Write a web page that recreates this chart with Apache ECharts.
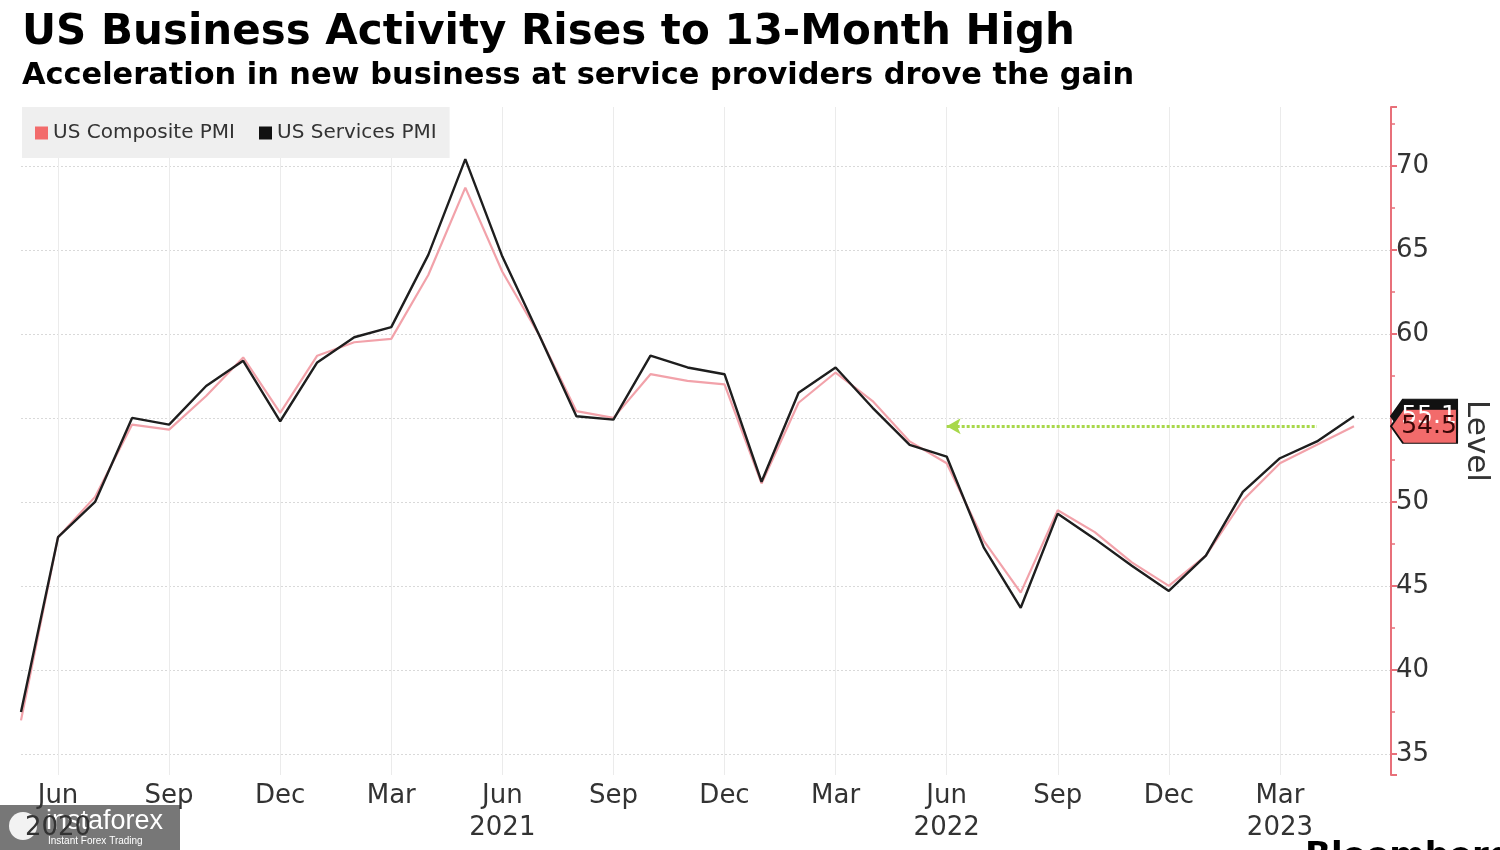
<!DOCTYPE html>
<html>
<head>
<meta charset="utf-8">
<script src="https://cdn.jsdelivr.net/npm/echarts@6/dist/echarts.min.js"></script>
<style>
html,body{margin:0;padding:0;background:#fff;}
#chart{width:1500px;height:850px;}
</style>
</head>
<body>
<div id="chart"></div>
<script>
// ---- data ----
var months = ['2020-05','2020-06','2020-07','2020-08','2020-09','2020-10','2020-11','2020-12',
  '2021-01','2021-02','2021-03','2021-04','2021-05','2021-06','2021-07','2021-08','2021-09','2021-10','2021-11','2021-12',
  '2022-01','2022-02','2022-03','2022-04','2022-05','2022-06','2022-07','2022-08','2022-09','2022-10','2022-11','2022-12',
  '2023-01','2023-02','2023-03','2023-04','2023-05','2023-06'];
var compositePMI = [37.0,47.9,50.3,54.6,54.3,56.3,58.6,55.3,58.7,59.5,59.7,63.5,68.7,63.7,59.9,55.4,55.0,57.6,57.2,57.0,
  51.1,55.9,57.7,56.0,53.6,52.3,47.7,44.6,49.5,48.2,46.4,45.0,46.8,50.1,52.3,53.4,54.5];
var servicesPMI = [37.5,47.9,50.0,55.0,54.6,56.9,58.4,54.8,58.3,59.8,60.4,64.7,70.4,64.6,59.9,55.1,54.9,58.7,58.0,57.6,
  51.2,56.5,58.0,55.6,53.4,52.7,47.3,43.7,49.3,47.8,46.2,44.7,46.8,50.6,52.6,53.6,55.1];
var tickMonths = ['2020-06','2020-09','2020-12','2021-03','2021-06','2021-09','2021-12','2022-03','2022-06','2022-09','2022-12','2023-03'];
var tickLabels = ['Jun\n2020','Sep','Dec','Mar','Jun\n2021','Sep','Dec','Mar','Jun\n2022','Sep','Dec','Mar\n2023'];
var yMin = 33.75, yMax = 73.5;
var arrowFrom = '2022-06', arrowTo = '2023-04';

var FONT = 'DejaVu Sans';
var lastComp = compositePMI[compositePMI.length - 1];
var lastServ = servicesPMI[servicesPMI.length - 1];
var edgeMonth = months[months.length - 1];
var tagPath = 'path://M0,17 L12,0 L66,0 L66,34 L12,34 Z';

function isTick(idx, val) { return tickMonths.indexOf(val) >= 0; }

var chart = echarts.init(document.getElementById('chart'));
chart.setOption({
  animation: false,
  backgroundColor: '#fff',
  textStyle: { fontFamily: FONT },
  grid: { left: 21, right: 109, top: 107, bottom: 75, containLabel: false, outerBoundsMode: 'none' },
  legend: {
    left: 22, top: 107,
    backgroundColor: '#efefef',
    padding: [16, 13, 15, 13],
    itemGap: 24, itemWidth: 13, itemHeight: 13,
    icon: 'rect',
    textStyle: { fontSize: 20, color: '#333', fontFamily: FONT },
    data: [
      { name: 'US Composite PMI', itemStyle: { color: '#f26b6b' } },
      { name: 'US Services PMI', itemStyle: { color: '#111' } }
    ]
  },
  xAxis: {
    type: 'category', data: months, boundaryGap: false,
    axisLine: { show: false }, axisTick: { show: false },
    axisLabel: {
      interval: isTick, margin: 5,
      fontSize: 26, lineHeight: 32, color: '#333', fontFamily: FONT,
      formatter: function (v) { var i = tickMonths.indexOf(v); return i >= 0 ? tickLabels[i] : ''; }
    },
    splitLine: { show: true, interval: isTick, lineStyle: { color: '#ebebeb', width: 1 } }
  },
  yAxis: [{
    type: 'value', position: 'right', min: yMin, max: yMax,
    minInterval: 5, maxInterval: 5, splitNumber: 8,
    name: 'Level', nameLocation: 'middle', nameRotate: -90, nameGap: 70,
    nameTextStyle: { fontSize: 31, color: '#333', fontFamily: FONT },
    axisLine: { show: true, lineStyle: { color: '#e8707a', width: 2 } },
    axisTick: { show: true, length: 6, lineStyle: { color: '#e8707a', width: 2 } },
    axisLabel: {
      margin: 5, fontSize: 26, color: '#333', fontFamily: FONT,
      formatter: function (v) { return (Math.abs(v % 5) < 1e-9) ? String(v) : ''; }
    },
    splitLine: { show: true, showMinLine: false, showMaxLine: false, lineStyle: { color: '#d9d9d9', type: [2, 2], width: 1 } }
  }, {
    type: 'value', position: 'right', min: yMin, max: yMax,
    minInterval: 2.5, maxInterval: 2.5,
    axisLine: { show: false },
    axisTick: { show: true, length: 4, lineStyle: { color: '#e8707a', width: 1.5 } },
    axisLabel: { show: false },
    splitLine: { show: false }
  }],
  series: [{
    name: 'US Composite PMI', type: 'line', data: compositePMI,
    symbol: 'none', color: '#f26b6b', z: 2,
    lineStyle: { color: '#f2a2aa', width: 2.2 },
    markLine: {
      silent: true, animation: false,
      symbol: ['arrow', 'none'], symbolSize: [12, 14],
      label: { show: false },
      lineStyle: { color: '#a8d84a', type: [3, 2], width: 3 },
      data: [[{ coord: [arrowFrom, lastComp] }, { coord: [arrowTo, lastComp] }]]
    }
  }, {
    name: 'US Services PMI', type: 'line', data: servicesPMI,
    symbol: 'none', color: '#111', z: 3,
    lineStyle: { color: '#1e1e1e', width: 2.4 },
    markPoint: {
      silent: true, animation: false,
      data: [{
        coord: [edgeMonth, lastServ], value: lastServ,
        symbol: tagPath, symbolSize: [66, 34], symbolOffset: [33, 0], symbolKeepAspect: false,
        itemStyle: { color: '#111', borderColor: '#111', borderWidth: 1.5 },
        label: { show: true, position: 'inside', offset: [5, 0], fontSize: 25, color: '#fff', fontFamily: FONT }
      }, {
        coord: [edgeMonth, lastComp], value: lastComp,
        symbol: tagPath, symbolSize: [66, 34], symbolOffset: [33, 0], symbolKeepAspect: false,
        itemStyle: { color: '#f26b6b', borderColor: '#111', borderWidth: 1.5 },
        label: { show: true, position: 'inside', offset: [5, 0], fontSize: 25, color: '#3a0808', fontFamily: FONT }
      }]
    }
  }],
  graphic: [
    { type: 'text', left: 22, top: 12, style: { text: 'US Business Activity Rises to 13-Month High', fontSize: 42, fontWeight: 'bold', fill: '#000', fontFamily: FONT } },
    { type: 'text', left: 22, top: 61, style: { text: 'Acceleration in new business at service providers drove the gain', fontSize: 30.4, fontWeight: 'bold', fill: '#000', fontFamily: FONT } },
    { type: 'text', left: 1305, top: 840, style: { text: 'Bloomberg', fontSize: 34, fontWeight: 'bold', fill: '#000', fontFamily: FONT } },
    { type: 'rect', left: 0, top: 805, shape: { width: 180, height: 45 }, style: { fill: 'rgba(85,85,85,0.8)' } },
    { type: 'circle', left: 9, top: 812, shape: { r: 14 }, style: { fill: '#f2f2f2' } },
    { type: 'text', left: 46, top: 808, style: { text: 'instaforex', fontSize: 27, fill: '#fff', fontFamily: 'Liberation Sans' } },
    { type: 'text', left: 48, top: 836, style: { text: 'Instant Forex Trading', fontSize: 10, fill: '#fff', fontFamily: 'Liberation Sans' } }
  ]
});
</script>
</body>
</html>
